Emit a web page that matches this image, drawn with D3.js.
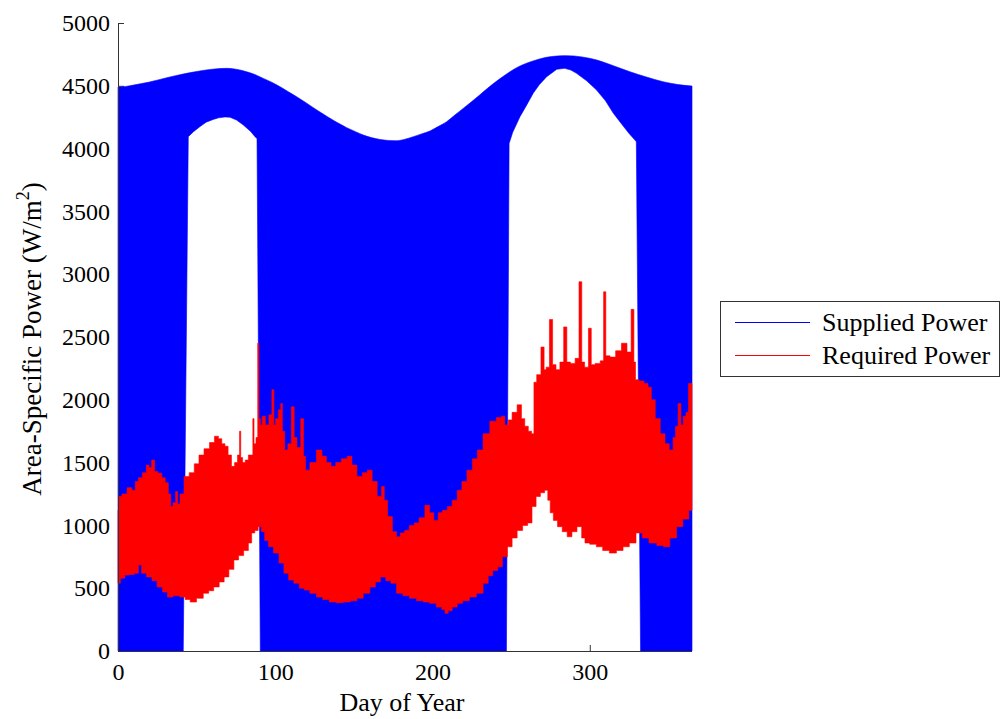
<!DOCTYPE html>
<html>
<head>
<meta charset="utf-8">
<script src="https://cdn.jsdelivr.net/npm/d3@7"></script>
<style>
  html, body { margin: 0; padding: 0; background: #fff; }
  svg { display: block; }
  text { font-family: "Liberation Serif", "Times New Roman", serif; fill: #000; }
</style>
</head>
<body>
<script>
// ---------- DATA ----------
const xTicks = [0, 100, 200, 300];
const yTicks = [0, 500, 1000, 1500, 2000, 2500, 3000, 3500, 4000, 4500, 5000];
const seriesNames = ["Supplied Power", "Required Power"];
const seriesColors = ["#0000ff", "#ff0000"];

// Supplied power: upper envelope of the daily oscillation
const supplyUpperDay = [0, 5, 10, 20, 31, 42, 52, 60, 69, 75, 81.8, 87, 92.4, 98, 103, 108, 113.6, 119, 124.2, 129.5, 134.8, 140, 145.4, 151, 156, 161, 166.6, 172, 177.2, 182, 187.8, 193, 198.4, 203.5, 209, 214, 219.5, 225, 230, 235, 240, 245.5, 251, 256, 262, 267, 272.5, 279, 285, 295, 304.5, 315, 325.5, 336, 346.5, 356, 365];
const supplyUpperVal = [4490, 4495, 4506, 4530, 4564, 4595, 4618, 4632, 4639, 4632, 4612, 4590, 4559, 4527, 4493, 4455, 4413, 4370, 4326, 4283, 4241, 4203, 4167, 4135, 4108, 4088, 4073, 4065, 4063, 4073, 4095, 4117, 4140, 4175, 4214, 4265, 4320, 4375, 4427, 4480, 4530, 4580, 4626, 4660, 4690, 4710, 4727, 4737, 4740, 4730, 4705, 4660, 4612, 4570, 4533, 4510, 4498];
// Supplied power: lower envelope (0 during eclipse seasons, high in full-sun seasons)
const supplyLowerDay = [0, 41.5, 44.7, 48, 52, 56, 60.5, 64, 68, 71.2, 75.4, 79.7, 84.5, 87.1, 88.4, 90.5, 247, 248.7, 251, 255.6, 260, 264, 268, 272.6, 279, 284, 288, 291.6, 298, 304.3, 310, 315, 320, 325, 328.7, 329.6, 332.3, 365];
const supplyLowerVal = [0, 0, 4095, 4135, 4174, 4210, 4232, 4245, 4252, 4250, 4227, 4188, 4135, 4095, 4080, 0, 0, 4041, 4130, 4254, 4350, 4440, 4510, 4573, 4631, 4639, 4625, 4599, 4540, 4467, 4380, 4281, 4200, 4120, 4068, 4055, 0, 0];

// Required power: upper envelope (with spikes)
const requiredUpperDay = [0, 1, 4, 7.6, 10, 12, 14, 17, 19, 20.3, 22.5, 24, 26.7, 29, 31, 33, 34, 36, 37.3, 38.5, 40.4, 43.6, 47, 50, 53, 56.4, 60, 62.7, 65, 67, 69, 71, 73.3, 75, 77, 77.6, 78.5, 80, 81.8, 84, 85.5, 86, 87, 88.5, 89.2, 90, 91, 92.4, 95, 97, 98.7, 99.5, 101, 103, 104, 105, 107, 109, 111.5, 112.5, 115, 117.4, 118.5, 120, 124, 128.4, 131, 134, 136.9, 140, 144, 147.5, 150, 153.8, 157, 160.2, 163, 166.6, 168.6, 170, 172.9, 176, 178.1, 181, 183.5, 187, 189.9, 193, 197.3, 199, 202.6, 204.7, 208, 211, 214, 217.4, 220, 223.8, 227, 230, 234.3, 238.6, 242.8, 244.9, 247, 249.2, 252, 255.6, 257.5, 259.8, 262, 264, 265, 267.5, 270.4, 271.5, 273, 275.7, 277, 280, 282, 284.8, 286, 289.4, 292, 294.3, 295.5, 297.9, 300.4, 301.5, 305.3, 308, 309.6, 310.8, 314.9, 318, 322.3, 325, 327.6, 328.5, 329.7, 333, 336, 338, 340.3, 343, 346.6, 349, 352, 354, 355.1, 357.3, 358.5, 360.4, 362, 363.6, 365];
const requiredUpperVal = [1120, 1230, 1250, 1300, 1280, 1350, 1380, 1420, 1480, 1460, 1520, 1430, 1415, 1380, 1340, 1250, 1150, 1180, 1270, 1170, 1250, 1390, 1420, 1490, 1560, 1610, 1660, 1710, 1690, 1650, 1630, 1560, 1470, 1500, 1560, 1750, 1540, 1500, 1520, 1560, 1560, 1850, 1650, 1700, 2450, 1850, 1800, 1870, 1800, 1880, 2080, 1800, 1850, 1920, 1970, 1750, 1600, 1650, 1945, 1700, 1620, 1850, 1550, 1440, 1500, 1600, 1550, 1500, 1470, 1500, 1530, 1550, 1480, 1390, 1420, 1440, 1350, 1230, 1310, 1200, 1070, 950, 910, 940, 960, 1000, 1020, 1060, 1160, 1100, 1040, 1100, 1120, 1150, 1200, 1280, 1350, 1440, 1530, 1600, 1730, 1830, 1860, 1870, 1800, 1840, 1900, 1960, 1850, 1790, 1750, 1730, 2140, 2200, 2420, 2240, 2260, 2640, 2280, 2240, 2300, 2580, 2300, 2290, 2330, 2940, 2300, 2260, 2570, 2280, 2290, 2310, 2860, 2350, 2340, 2390, 2450, 2380, 2720, 2300, 2160, 2150, 2130, 2100, 2000, 1850, 1730, 1650, 1600, 1700, 1790, 1970, 1800, 1870, 1900, 2130, 2130];
// Required power: lower envelope
const requiredLowerDay = [0, 3, 5.5, 9, 11.9, 14, 16, 20.3, 23, 26.7, 30, 33, 37, 41.5, 44, 47.8, 52, 56.4, 59, 62.7, 66, 69, 72, 75.4, 78, 81.8, 84, 86, 88, 90.3, 92, 94.5, 97, 100.8, 104, 107, 110, 113.6, 117, 120, 124, 128.4, 132, 136.9, 141, 145.3, 150, 153.8, 158, 162.3, 165, 168.6, 172, 175, 179.3, 183, 187.7, 192, 196.2, 200, 204.7, 207, 208.9, 211, 214, 217.4, 221, 225.8, 230, 234.3, 236.5, 240, 242.8, 246, 249.2, 252, 255.6, 259, 262, 264.5, 267.2, 270, 272.6, 274, 275.7, 278, 281, 284, 287.3, 290, 293.7, 296, 297.9, 302, 306.4, 310, 314.9, 319, 323.3, 327, 331.8, 335, 340.3, 345, 348.8, 353, 357.3, 361, 365];
const requiredLowerVal = [540, 580, 605, 610, 620, 685, 620, 590, 560, 510, 470, 430, 440, 430, 410, 390, 420, 460, 480, 510, 550, 590, 650, 725, 760, 800, 860, 940, 960, 990, 950, 880, 830, 780, 700, 620, 565, 540, 500, 485, 460, 430, 410, 390, 385, 390, 400, 420, 460, 510, 550, 590, 560, 540, 460, 440, 420, 400, 390, 380, 350, 330, 300, 320, 350, 380, 400, 430, 460, 540, 600, 640, 670, 750, 830, 900, 960, 1000, 1020, 1150, 1230, 1260, 1280, 1200, 1100, 1040, 990, 950, 910, 950, 990, 900, 860, 850, 830, 800, 780, 800, 830, 860, 940, 900, 860, 840, 830, 900, 990, 1050, 1120];

// ---------- CHART ----------
const W = 1003, H = 719;
const svg = d3.select("body").append("svg").attr("width", W).attr("height", H);
svg.append("rect").attr("width", W).attr("height", H).attr("fill", "#fff");

const x = d3.scaleLinear().domain([0, 365]).range([118, 692]);
const y = d3.scaleLinear().domain([0, 5000]).range([651, 23]);

const axisColor = "#333";
const tickFont = 24, titleFont = 26;

// axes (ticks beneath data, like the reference)
const gx = svg.append("g").attr("transform", `translate(0,${y(0)})`)
  .call(d3.axisBottom(x).tickValues(xTicks).tickSize(-6).tickPadding(12).tickFormat(d3.format("d")));
const gy = svg.append("g").attr("transform", `translate(${x(0)},0)`)
  .call(d3.axisLeft(y).tickValues(yTicks).tickSize(-6).tickPadding(8).tickFormat(d3.format("d")));
[gx, gy].forEach(g => {
  g.select(".domain").remove();
  g.selectAll(".tick line").attr("stroke", axisColor);
  g.selectAll(".tick text").attr("font-size", tickFont).attr("font-family", '"Liberation Serif", serif').attr("fill", "#000");
});

const pts = (D, V) => D.map((d, i) => [d, V[i]]);
const smooth = d3.line().x(d => x(d[0])).y(d => y(d[1])).curve(d3.curveMonotoneX);
const straight = d3.line().x(d => x(d[0])).y(d => y(d[1]));
const stepped = d3.line().x(d => x(d[0])).y(d => y(d[1])).curve(d3.curveStep);

// supplied power band: smooth upper envelope, lower envelope with sharp season edges
const supplyPath = smooth(pts(supplyUpperDay, supplyUpperVal)) +
  straight(pts(supplyLowerDay, supplyLowerVal).reverse()).replace(/^M/, "L") + "Z";
svg.append("path").attr("d", supplyPath)
  .attr("fill", seriesColors[0]).attr("stroke", seriesColors[0]).attr("stroke-width", 0.6);

// required power band: jagged daily-noise envelopes
const requiredPath = stepped(pts(requiredUpperDay, requiredUpperVal)) +
  stepped(pts(requiredLowerDay, requiredLowerVal).reverse()).replace(/^M/, "L") + "Z";
svg.append("path").attr("d", requiredPath)
  .attr("fill", seriesColors[1]).attr("stroke", seriesColors[1]).attr("stroke-width", 0.6);

// axis lines on top
svg.append("line").attr("x1", x(0)).attr("x2", x(0)).attr("y1", y(5000)).attr("y2", y(0))
  .attr("stroke", axisColor).attr("stroke-width", 1).attr("shape-rendering", "crispEdges");
svg.append("line").attr("x1", x(0)).attr("x2", x(365)).attr("y1", y(0)).attr("y2", y(0))
  .attr("stroke", axisColor).attr("stroke-width", 1).attr("shape-rendering", "crispEdges");

// axis titles
svg.append("text")
  .attr("x", (x(0) + x(365)) / 2 - 3).attr("y", 711)
  .attr("text-anchor", "middle").attr("font-size", titleFont)
  .text("Day of Year");

const yl = svg.append("text")
  .attr("transform", `translate(41,${(y(0) + y(5000)) / 2 + 2}) rotate(-90)`)
  .attr("text-anchor", "middle").attr("font-size", 27);
yl.append("tspan").text("Area-Specific Power (W/m");
yl.append("tspan").attr("dy", -12).attr("font-size", 18).text("2");
yl.append("tspan").attr("dy", 12).text(")");

// legend
const lg = svg.append("g");
lg.append("rect").attr("x", 720.5).attr("y", 301.5).attr("width", 279).attr("height", 75)
  .attr("fill", "#fff").attr("stroke", axisColor).attr("stroke-width", 1);
const legendY = [322.5, 355.5];
seriesNames.forEach((name, i) => {
  lg.append("line").attr("x1", 735).attr("x2", 810).attr("y1", legendY[i]).attr("y2", legendY[i])
    .attr("stroke", seriesColors[i]).attr("stroke-width", 1);
  lg.append("text").attr("x", 822).attr("y", legendY[i]).attr("dy", "0.33em")
    .attr("font-size", titleFont).text(name);
});
</script>
</body>
</html>
